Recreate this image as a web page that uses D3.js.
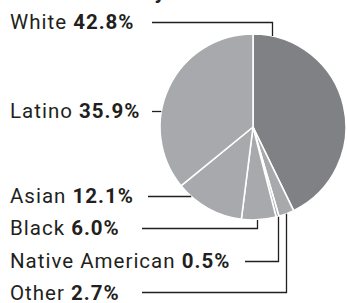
<!DOCTYPE html>
<html><head><meta charset="utf-8">
<script src="https://cdn.jsdelivr.net/npm/d3@7"></script>
<style>body{margin:0;background:#fff;}svg{display:block;}</style>
</head><body>
<svg id="chart" width="347" height="303"></svg>
<script>
// Data (clockwise order from 12 o'clock)
const categories = ["White", "Other", "Native American", "Black", "Asian", "Latino"];
const shares = [42.8, 2.7, 0.5, 6.0, 12.1, 35.9];
const shareLabels = ["42.8%", "2.7%", "0.5%", "6.0%", "12.1%", "35.9%"];

// Layout (label placement)
const labelOrder = ["White", "Latino", "Asian", "Black", "Native American", "Other"];
const labelBaselines = [29, 118, 203, 235, 268, 299.5];
const lineStartX = [152, 152, 148, 142, 245, 142];
const anchorAngleDeg = [11.8, null, null, 177.5, null, null]; // null = mid-angle / horizontal

const cx = 253, cy = 127, r = 93;
const svg = d3.select("#chart");

// cut-off title
svg.append("text").attr("x", 165).attr("y", -1).attr("text-anchor", "end")
  .attr("font-family", "Roboto, sans-serif").attr("font-weight", "bold")
  .attr("font-size", 21).attr("fill", "#231f20").text("Ethnicity");

const data = categories.map((c, i) => ({cat: c, value: shares[i], label: shareLabels[i]}));
const pie = d3.pie().sort(null).value(d => d.value);
const arcs = pie(data);
const arc = d3.arc().innerRadius(0).outerRadius(r);
const color = d3.scaleOrdinal().domain(categories)
  .range(["#808184", "#a7a9ac", "#a7a9ac", "#a7a9ac", "#a7a9ac", "#a7a9ac"]);

const g = svg.append("g").attr("transform", `translate(${cx},${cy})`);
g.selectAll("path").data(arcs).join("path")
  .attr("d", arc).attr("fill", d => color(d.data.cat))
  .attr("stroke", "#fff").attr("stroke-width", 1.6).attr("stroke-linejoin", "round");

const arcByCat = {};
arcs.forEach(a => arcByCat[a.data.cat] = a);

labelOrder.forEach((cat, i) => {
  const a = arcByCat[cat];
  const y = labelBaselines[i];
  const t = svg.append("text").attr("x", 10).attr("y", y)
    .attr("font-family", "Roboto, sans-serif").attr("font-size", 20.5)
    .attr("letter-spacing", 1).attr("fill", "#231f20");
  t.append("tspan").text(cat + " ");
  t.append("tspan").attr("font-weight", "bold").text(a.data.label);

  const ly = Math.round(y - 7.5) + 0.5;
  const x0 = lineStartX[i];
  let pts;
  const dy = ly - cy;
  const useVertical = cat !== "Latino" && cat !== "Asian";
  if (!useVertical) {
    const ex = cx - Math.sqrt(r * r - dy * dy);
    pts = [[x0, ly], [ex, ly]];
  } else {
    const ang = anchorAngleDeg[i] != null ? anchorAngleDeg[i] * Math.PI / 180 : (a.startAngle + a.endAngle) / 2;
    const vx = Math.round(cx + r * Math.sin(ang)) + 0.5;
    const vy = cy - r * Math.cos(ang);
    pts = [[x0, ly], [vx, ly], [vx, vy]];
  }
  svg.append("path").attr("d", d3.line()(pts)).attr("fill", "none")
    .attr("stroke", "#231f20").attr("stroke-width", 1.3);
});
</script>
</body></html>
